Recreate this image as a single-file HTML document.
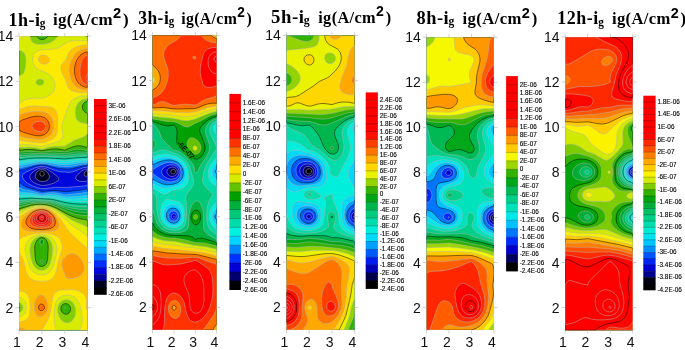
<!DOCTYPE html><html><head><meta charset="utf-8"><style>
*{margin:0;padding:0}
body{width:685px;height:350px;background:#fff;overflow:hidden}
svg{position:absolute;left:0;top:0}
.ax{font-family:"Liberation Sans",Arial,sans-serif;font-size:14px;fill:#111}
.cb{font-family:"Liberation Sans",Arial,sans-serif;font-size:6.4px;fill:#000;stroke:#000;stroke-width:0.12px}
.tt{font-family:"Liberation Serif","Times New Roman",serif;font-weight:bold;font-size:18.3px;fill:#000;letter-spacing:0.5px}
.t2{font-size:16.8px;letter-spacing:0.4px}
.clb{font-family:"Liberation Sans",Arial,sans-serif;font-size:7.2px;fill:#000;stroke:#000;stroke-width:0.15px}
.sb{font-size:11.5px;letter-spacing:0}
.sp{font-family:"Liberation Sans",Arial,sans-serif;font-size:14.5px;letter-spacing:0.6px}
</style></head><body><svg width="685" height="350" viewBox="0 0 685 350"><defs><clipPath id="c1"><rect x="190.0" y="361.0" width="686.0" height="2942.0"/></clipPath><clipPath id="c2"><rect x="1525.0" y="353.0" width="642.0" height="2948.0"/></clipPath><clipPath id="c3"><rect x="2865.0" y="354.0" width="681.0" height="2947.0"/></clipPath><clipPath id="c4"><rect x="4265.0" y="373.0" width="675.0" height="2928.0"/></clipPath><clipPath id="c5"><rect x="5652.0" y="369.0" width="676.0" height="2933.0"/></clipPath></defs><g clip-path="url(#c1)" transform="scale(.1)"><rect x="190" y="361" width="686" height="2942" fill="#000000"/><path fill="#000020" stroke="#b4b4b4" stroke-width="5" fill-rule="evenodd" d="M198 3303l678 0 0-2942-686 0 0 2942zM406 1757l-8-16 2-15 11-13 8-2 7 2 13 13 3 15-2 8-6 8-8 4-15-1z"/><path fill="#000098" stroke="#b4b4b4" stroke-width="5" fill-rule="evenodd" d="M198 3303l678 0 0-1542-15 2-8-2-7-5-6-15 9-22 12-10 15-3 0-1345-686 0 0 2942zM392 1809l-24-15-12-15-4-15 4-23 15-22 25-19 23-5 23 5 18 11 22 23 11 23 1 22-14 20-23 12-31 5-30-5z"/><path fill="#0007dd" stroke="#b4b4b4" stroke-width="5" fill-rule="evenodd" d="M198 3303l678 0 0-1494-38 7-38-3-31-13-11-13-1-8 5-15 12-15 41-38 31-17 30-5 0-1328-686 0 0 2942zM421 1855l-40-9-46-22-25-22-9-15-4-15 3-15 8-16 31-30 42-24 22-6 23-1 38 10 50 29 58 45 13 15 3 15-10 15-41 23-57 17-54 6z"/><path fill="#002efc" stroke="#b4b4b4" stroke-width="5" fill-rule="evenodd" d="M198 3303l678 0 0-1453-30 8-46 6-137 10-107-1-107 13-38-1-35-8-43-15-59-30-19-15-19-23-10-22-1-15 6-16 37-22 78-38 54-15 34 0 30 6 92 34 38 11 30 3 23-1 38 5 23-2 31-7 99-39 38-4 0-1311-686 0 0 2942z"/><path fill="#006bff" stroke="#000" stroke-width="5" fill-rule="evenodd" d="M198 3303l678 0 0-1416-53 11-160 20-115-14-129 10-107-29-61-21-38-24-23-26 0 1489zM196 1704l70-17 91-29 46-7 31 0 30 4 122 31 84 5 54-4 106-28 46-3 0-1295-686 0 0 1345z"/><path fill="#00a7ff" stroke="#b4b4b4" stroke-width="5" fill-rule="evenodd" d="M198 3303l678 0 0-1382-61 11-168 18-61-17-45-6-54 1-68 11-77-22-113-25-39-18 0 1429zM192 1681l150-37 61-8 54 2 122 23 76 6 61-4 107-20 53-4 0-1278-686 0 0 1321z"/><path fill="#00d8f9" stroke="#b4b4b4" stroke-width="5" fill-rule="evenodd" d="M198 3303l678 0 0-1350-91 11-130 5-84-18-38-4-46-1-68 8-92-21-114-11-23-5 0 1386zM194 1658l126-26 76-10 61 1 129 19 61 3 61-3 115-17 53-2 0-1262-686 0 0 1299z"/><path fill="#00efe2" stroke="#b4b4b4" stroke-width="5" fill-rule="evenodd" d="M198 3303l678 0 0-1320-99 8-99-1-38-4-107-22-46-2-68 4-92-15-68-4-69 3 0 1353zM198 1636l106-19 84-9 76 1 122 14 61 3 61-4 115-14 53-2 0-1245-686 0 0 1277z"/><path fill="#00e2b9" stroke="#b4b4b4" stroke-width="5" fill-rule="evenodd" d="M198 3303l678 0 0-1291-84 4-84-3-61-7-122-27-106-2-84-9-46-2-99 4 0 1333zM198 1616l99-15 84-7 91 0 175 13 160-14 69-3 0-1229-686 0 0 1257z"/><path fill="#00d292" stroke="#000" stroke-width="5" fill-rule="evenodd" d="M198 3303l678 0 0-1262-76 0-69-4-68-10-145-34-206-11-122 7 0 1314zM191 1598l90-13 77-5 122 0 167 9 145-13 84-3 0-1212-686 0 0 1237z"/><path fill="#00c26a" stroke="#b4b4b4" stroke-width="5" fill-rule="evenodd" d="M198 3303l678 0 0-1234-91-3-69-8-61-13-107-31-45-9-168-9-145 12 0 1295zM198 1578l137-13 168-1 144 8 130-13 99-2 0-1196-686 0 0 1218z"/><path fill="#00b03d" stroke="#b4b4b4" stroke-width="5" fill-rule="evenodd" d="M198 3303l678 0 0-1205-91-6-61-10-61-15-115-38-45-11-54-5-91-4-61 4-107 14 0 1276zM198 1559l129-10 92 2 106-3 122 6 122-15 107 1 0-1179-686 0 0 1199z"/><path fill="#00a40f" stroke="#b4b4b4" stroke-width="5" fill-rule="evenodd" d="M198 3303l678 0 0-1176-84-7-61-11-61-19-114-44-53-15-54-7-68-3-77 5-114 21 0 1256zM198 1540l99-8 122 4 106-6 122 7 122-19 107 5 0-1162-686 0 0 1180z"/><path fill="#32b200" stroke="#b4b4b4" stroke-width="5" fill-rule="evenodd" d="M198 3303l678 0 0-1147-69-4-53-9-69-23-114-52-46-17-61-14-68-5-84 7-122 29 0 1235zM643 3084l-3-7 7-8 8 3 3 5-1 7-10 4zM419 2632l-12-8-2-7 6-15 8-2 7 5 4 12-1 7-10 8zM405 2443l-7-23 7-22 14-8 13 8 5 15-3 23-8 10-7 4-8-1zM198 1521l106-7 115 8 122-11 106 8 23-3 69-20 38-4 38 2 61 12 0-1145-686 0 0 1161z"/><path fill="#83ce00" stroke="#000" stroke-width="5" fill-rule="evenodd" d="M198 3303l678 0 0-1101-91-17-54-17-53-24-115-63-53-22-53-12-54-4-45 2-46 8-122 36 0 977 8 11-8 9 0 217zM638 3137l-14-11-11-19-5-23 6-22 10-15 16-9 23-2 15 5 15 13 9 15 4 23-5 22-10 15-13 10-15 4-23-5zM401 2662l-15-8-13-13-15-32-8-60-3-83 9-38 19-30 13-12 15-8 16-3 15 3 20 12 12 15 14 38 2 38-6 113-10 38-17 21-23 11-23-1zM198 1502l53-7 46-1 45 3 77 10 84-15 53-4 38 3 53 11 77-33 38-10 45-1 61 15 8-2 0-337-23-10-15-14-10-17-4-23 4-23 9-15 16-13 23-7 0-651-397 0-13 15-17 12-15 6-15 2-16-3-15-8-9-9-8-15-181 0 0 1141z"/><path fill="#d7ec00" stroke="#b4b4b4" stroke-width="5" fill-rule="evenodd" d="M198 3303l678 0 0-1031-38-20-76-31-46-22-132-88-54-30-58-20-69-7-45 3-46 10-122 46 0 908 15 8 15 15 8 18 2 15-3 15-8 15-14 13-15 7 0 176zM654 3228l-30-17-15-16-15-24-16-49-2-30 3-23 15-37 25-23 13-7 23-5 23 1 15 4 31 19 22 33 10 38-1 45-5 23-10 22-24 30-31 16-30 0zM392 2700l-19-8-19-15-18-23-11-22-12-38-11-53-4-38 2-30 7-30 12-23 18-22 18-15 18-11 23-9 23-3 23 3 27 12 19 15 13 15 13 23 7 23 5 30-5 75-17 76-10 22-14 20-16 14-22 11-23 4-23-2zM396 1486l23 7 68-21 61-10 99 0 92-58 99-36 16-11 22-23 0-95-69-15-15-6-15-11-12-16-6-15-6-46 1-30 6-30 10-23 15-22 17-15 26-15 25-8 23-2 0-615-13-1-16-8-263 0-39 38-42 27-46 15-46 5-46-5-31-12-14-14-8-12-13-42-109 0 0 141 30 9 23 21 13 33 4 37-4 61-13 54-7 15-14 14-32 13 0 717 107-4 45 4 49 9zM386 851l-15-7-8-8-4-7 1-15 13-14 15-7 15-2 16 2 11 6 9 15-1 15-3 7-16 14-16 3-15-1z"/><path fill="#fcea00" stroke="#b4b4b4" stroke-width="5" fill-rule="evenodd" d="M198 3303l365 0-15-48-7-65 2-91 10-60 16-38 25-27 30-16 46-7 38 5 38 16 31 29 19 38 21 98 6 60-6 53-20 53 79 0 0-936-55-45-120-83-108-98-45-34-33-19-35-13-31-8-38-3-46 4-51 13-54 23-70 35 0 829 30 15 26 26 14 30 4 38-5 34-16 29-23 20-30 12 0 131zM377 2745l-27-12-23-18-15-19-15-27-43-143-5-38 2-30 11-30 17-23 25-22 26-15 37-15 36-8 31 0 35 8 34 14 22 16 20 22 12 23 9 30 3 30-3 38-9 45-15 61-12 37-17 31-18 21-23 16-30 11-31 2-30-4zM411 1463l31-5 111-33 38-15 21-16 14-22 4-23-13-75 3-30 50-144 32-75 10-15 16-15 34-19 53-14 61-5 0-549-122-3-53 7-38 15-61 41-39 17-38 7-106 6-38 9-31 18-16 25-7 30 1 30 7 30 12 23 13 15 21 15 91 40 38 28 19 22 15 31 7 30-1 30-10 30-15 23-22 20-31 18-30 12-23 5-99 1-46 7-46 19-38 31 0 400 122 9 96 13zM198 402l15-11 6-7 6-23-35 0 0 43z"/><path fill="#ffc200" stroke="#b4b4b4" stroke-width="5" fill-rule="evenodd" d="M198 3303l221 0 53-91 23-53 14-60 13-105 11-37 8-16 15-19 15-11 15-6 38-6 107-3 46 9 38 17 29 26 16 31 6 37-5 61 7 15 8 10 0-618-101-86-82-78-30-39-59-94-48-53-31-24-38-20-38-12-38-3-46 4-51 17-43 23-81 52 0 227 16-15 28-15 44-15 62-16 79-8 38 2 46 7 53 17 21 13 15 15 13 22 14 38 3 23-2 30-36 113-19 98-17 45-15 23-23 21-23 11-30 5-76 0-31-4-30-12-26-21-20-28-15-32-18-91-9-30-42-75 0 386 53 15 16 10 16 18 12 23 9 30 6 76-6 68-8 22-10 15-15 15-20 11-53 14 0 81zM342 1425l69 6 31-5 30-10 33-14 28-17 21-21 12-22 8-38 4-98-3-45-6-31-13-27-15-16-23-12-31-7-68-2-61-7-38 0-46 9-84 26 0 308 46 10 101 13zM815 927l61 2 0-484-61 8-38 9-31 12-30 20-31 35-10 21-15 45-40 45-8 15-3 15 2 30 9 31 39 75 16 53 13 23 20 20 23 11 31 8 50 6zM434 641l23-1 21-7 16-16 3-15-3-15-11-15-20-15-21-7-23 0-16 6-15 15-5 16 1 15 12 20 15 12 20 6z"/><path fill="#ff9900" stroke="#b4b4b4" stroke-width="5" fill-rule="evenodd" d="M198 3303l60 0-15-13-15-8-30-7-8 1 0 27zM396 3167l15-1 15-5 23-17 20-30 10-37-1-38-14-44-22-32-23-12-23 2-24 18-20 38-9 45 1 45 12 38 17 22 23 8zM678 2784l23 3 23-2 30-7 28-11 33-23 11-14 11-23 4-23-1-22-5-23-9-22-14-23-19-23-16-15-23-14-23-7-15 0-31 10-22 15-23 22-14 19-6 16-2 15 1 22 13 52 23 56 8 11 13 9zM192 2654l7-15 1-15-10-15 0 50zM266 2307l61 7 183-2 46-8 23-15 10-19 2-31-8-30-14-30-22-30-23-23-35-22-32-13-23-5-31-1-53 11-30 13-28 17-51 45-17 23-7 15-5 23 0 22 5 16 11 16 15 12 23 9zM358 1395l38 2 30-4 31-10 23-12 23-19 14-18 10-23 7-30 0-37-4-31-10-30-14-22-19-18-23-13-30-10-38-6-46-2-46 5-53 13-61 21 0 206 61 20 102 17zM838 897l38 4 0-419-38 7-31 11-30 17-23 20-21 28-18 37-17 46-7 37 0 31 7 37 15 46 20 37 19 23 20 15 28 13 33 10z"/><path fill="#ff6b00" stroke="#000" stroke-width="5" fill-rule="evenodd" d="M411 3107l15-2 8-6 8-10 3-12-6-23-6-7-14-7-16 2-7 6-11 21 4 23 7 8 14 7zM350 2293l76 3 61-6 38-14 16-14 9-15 4-23-2-22-8-23-14-23-20-22-23-18-26-12-27-7-46 1-46 15-21 13-26 23-27 38-7 22-1 15 3 15 8 15 26 23 23 9 25 6zM358 1357l45 1 39-11 30-23 13-20 6-15 4-23-2-22-6-20-10-18-13-15-15-12-23-10-23-6-45-1-54 10-76 26-38 21 0 83 30 15 48 17 88 23zM876 874l0-356-30 8-23 11-23 18-15 18-18 29-11 31-9 37-2 38 3 38 8 30 13 30 15 23 16 16 23 15 23 9 30 5z"/><path fill="#ff3d00" stroke="#b4b4b4" stroke-width="5" fill-rule="evenodd" d="M381 2278l53 1 46-9 16-8 14-11 15-27 2-15-3-22-9-23-11-15-32-28-38-14-23-1-23 3-38 15-30 25-11 15-11 23-3 30 5 15 10 15 25 18 40 12zM373 1312l23 4 23-4 16-8 14-15 7-23-5-22-11-15-21-13-23-4-31 5-23 12-20 22-2 15 7 15 15 16 30 14zM861 844l15 3 0-294-15 4-15 9-24 29-16 45-8 60 2 53 13 46 22 30 25 15z"/><path fill="#ff1500" stroke="#b4b4b4" stroke-width="5" fill-rule="evenodd" d="M396 2263l38 0 31-9 23-15 11-15 5-15-2-30-16-30-28-23-32-10-34 3-33 15-23 22-13 31 0 22 12 24 23 18 34 11zM868 816l8 4 0-86-15 46-1 19 6 15zM876 587z"/><path fill="#ff0000" stroke="#b4b4b4" stroke-width="5" fill-rule="evenodd" d="M411 2247l31-3 22-12 15-15 7-23-4-23-14-22-19-15-30-8-23 3-25 12-20 23-7 23 4 22 10 16 23 15 28 7z"/><path fill="#ff0000" stroke="#b4b4b4" stroke-width="5" fill-rule="evenodd" d="M396 2227l15 3 23-2 20-11 10-13 5-17-3-16-9-16-17-14-21-5-16 2-21 11-13 15-5 23 3 15 11 15 11 7z"/><path fill="#ff0000" stroke="#000" stroke-width="5" fill-rule="evenodd" d="M403 2211l16 3 15-4 16-16 2-23-10-15-8-6-23-3-15 6-10 11-4 23 6 14 11 8z"/><path fill="#ff0000" stroke="#b4b4b4" stroke-width="5" fill-rule="evenodd" d="M411 2196l15-1 10-8 2-16-4-7-8-6-15 0-9 6-4 7 2 16 8 7z"/><path fill="#ff0000" stroke="#b4b4b4" stroke-width="5" fill-rule="evenodd" d="M419 2180l6-9-6-5-7 5 5 8z"/></g><rect x="94.0" y="99.00" width="12.7" height="7.04" fill="#ff0000"/><rect x="94.0" y="105.74" width="12.7" height="7.04" fill="#ff0000"/><rect x="94.0" y="112.48" width="12.7" height="7.04" fill="#ff0000"/><rect x="94.0" y="119.22" width="12.7" height="7.04" fill="#ff0000"/><rect x="94.0" y="125.97" width="12.7" height="7.04" fill="#ff0000"/><rect x="94.0" y="132.71" width="12.7" height="7.04" fill="#ff0000"/><rect x="94.0" y="139.45" width="12.7" height="7.04" fill="#ff1500"/><rect x="94.0" y="146.19" width="12.7" height="7.04" fill="#ff3d00"/><rect x="94.0" y="152.93" width="12.7" height="7.04" fill="#ff6b00"/><rect x="94.0" y="159.67" width="12.7" height="7.04" fill="#ff9900"/><rect x="94.0" y="166.41" width="12.7" height="7.04" fill="#ffc200"/><rect x="94.0" y="173.16" width="12.7" height="7.04" fill="#fcea00"/><rect x="94.0" y="179.90" width="12.7" height="7.04" fill="#d7ec00"/><rect x="94.0" y="186.64" width="12.7" height="7.04" fill="#83ce00"/><rect x="94.0" y="193.38" width="12.7" height="7.04" fill="#32b100"/><rect x="94.0" y="200.12" width="12.7" height="7.04" fill="#00a40f"/><rect x="94.0" y="206.86" width="12.7" height="7.04" fill="#00b03d"/><rect x="94.0" y="213.60" width="12.7" height="7.04" fill="#00c26a"/><rect x="94.0" y="220.34" width="12.7" height="7.04" fill="#00d292"/><rect x="94.0" y="227.09" width="12.7" height="7.04" fill="#00e2b9"/><rect x="94.0" y="233.83" width="12.7" height="7.04" fill="#00efe2"/><rect x="94.0" y="240.57" width="12.7" height="7.04" fill="#00d8f9"/><rect x="94.0" y="247.31" width="12.7" height="7.04" fill="#00a7ff"/><rect x="94.0" y="254.05" width="12.7" height="7.04" fill="#006bff"/><rect x="94.0" y="260.79" width="12.7" height="7.04" fill="#002efc"/><rect x="94.0" y="267.53" width="12.7" height="7.04" fill="#0007dd"/><rect x="94.0" y="274.28" width="12.7" height="7.04" fill="#000098"/><rect x="94.0" y="281.02" width="12.7" height="7.04" fill="#000020"/><rect x="94.0" y="287.76" width="12.7" height="7.04" fill="#000000"/><path d="M94.0 105.74H106.7M94.0 112.48H106.7M94.0 119.22H106.7M94.0 125.97H106.7M94.0 132.71H106.7M94.0 139.45H106.7M94.0 146.19H106.7M94.0 152.93H106.7M94.0 159.67H106.7M94.0 166.41H106.7M94.0 173.16H106.7M94.0 179.90H106.7M94.0 186.64H106.7M94.0 193.38H106.7M94.0 200.12H106.7M94.0 206.86H106.7M94.0 213.60H106.7M94.0 220.34H106.7M94.0 227.09H106.7M94.0 233.83H106.7M94.0 240.57H106.7M94.0 247.31H106.7M94.0 254.05H106.7M94.0 260.79H106.7M94.0 267.53H106.7M94.0 274.28H106.7M94.0 281.02H106.7M94.0 287.76H106.7" stroke="#000" stroke-opacity="0.45" stroke-width="0.6" fill="none"/><path d="M19.0 32.9V36.1M19.0 330.3V333.8M41.9 32.9V36.1M41.9 330.3V333.8M64.7 32.9V36.1M64.7 330.3V333.8M87.6 32.9V36.1M87.6 330.3V333.8M15.5 36.1H19.0M87.6 36.1H91.1M15.5 81.4H19.0M87.6 81.4H91.1M15.5 126.6H19.0M87.6 126.6H91.1M15.5 171.9H19.0M87.6 171.9H91.1M15.5 217.1H19.0M87.6 217.1H91.1M15.5 262.4H19.0M87.6 262.4H91.1M15.5 307.7H19.0M87.6 307.7H91.1" stroke="#bbb" stroke-width="0.7" fill="none"/><g clip-path="url(#c2)" transform="scale(.1)"><rect x="1525" y="353" width="641" height="2948" fill="#000000"/><path fill="#00006e" stroke="#b4b4b4" stroke-width="5" fill-rule="evenodd" d="M1532 3301l635 0 0-2948-642 0 0 2948zM1721 1736l-9-7-4-8 2-15 15-12 14-1 14 12 2 16-9 13-7 4-14 0z"/><path fill="#0000d6" stroke="#b4b4b4" stroke-width="5" fill-rule="evenodd" d="M1532 3301l635 0 0-2948-642 0 0 2948zM1734 2167l5-6 4 6-4 5zM1698 1759l-19-15-8-15-2-15 5-16 13-15 16-9 22-4 21 5 14 10 9 13 4 16-4 22-11 15-19 11-14 3-22-4z"/><path fill="#0032ff" stroke="#b4b4b4" stroke-width="5" fill-rule="evenodd" d="M1532 3301l635 0 0-2948-642 0 0 2948zM1730 2190l-11-8-5-7-2-15 2-8 11-12 7-3 14 2 13 13 2 8-1 15-14 14-14 1zM1693 1789l-38-15-26-23-12-22 1-23 15-23 29-22 34-12 36 0 28 12 22 22 8 23 0 30-6 15-9 15-21 16-29 9-29-1z"/><path fill="#0086ff" stroke="#b4b4b4" stroke-width="5" fill-rule="evenodd" d="M1532 3301l635 0 0-2948-642 0 0 1345 61-37 46-23 43-13 35-1 43 10 29 20 21 29 8 38-6 38-9 17-14 16-14 10-22 10-43 7-42-5-43-16-50-31-43-35 0 1569zM1713 2205l-16-15-7-15-1-23 4-15 10-15 15-9 21-2 14 4 15 11 10 18 3 23-4 15-9 16-15 10-14 3-21-4z"/><path fill="#00d2ff" stroke="#000" stroke-width="5" fill-rule="evenodd" d="M1532 3301l635 0 0-1104-14-13-5-17 5-18 14-15 0-393-11-12-4-15 6-16 9-8 0-1337-642 0 0 1295 57-27 57-18 50-5 43 6 43 18 28 25 22 36 6 23 2 23-5 38-10 22-11 15-32 24-43 15-57 5-43-6-57-23-50-30 0 1512zM1710 2228l-23-15-16-23-8-30 4-31 15-28 21-16 22-5 28 5 22 13 17 24 8 30-2 30-10 23-20 19-29 9-29-5z"/><path fill="#00f0e0" stroke="#b4b4b4" stroke-width="5" fill-rule="evenodd" d="M1532 3301l635 0 0-1059-19-14-13-15-10-23-3-23 2-23 9-22 13-20 21-20 0-282-21-17-15-18-9-21-3-23 3-23 10-22 14-19 21-18 0-1286-642 0 0 1254 71-26 50-10 57 3 57 16 43 27 31 36 18 45 5 46-5 38-18 37-14 16-17 13-35 15-86 18-43 2-43-12-71-36 0 1466zM1706 2250l-31-17-14-15-13-21-11-37 2-46 7-20 10-18 12-12 14-10 14-6 22-3 35 5 22 10 12 9 22 30 11 38-1 45-7 23-8 15-22 22-14 7-22 6-36-3z"/><path fill="#00dca9" stroke="#b4b4b4" stroke-width="5" fill-rule="evenodd" d="M1532 3301l635 0 0-1010-29-19-24-29-15-38-4-38 4-45 13-38 19-31 36-34 0-153-42-31-22-26-16-35-5-38 4-38 17-42 22-33 42-46 0-230-25-34-8-30 2-15 7-15 10-11 14-6 0-883-642 0 0 1216 78-25 43-5 29 2 35 8 43 13 29 13 21 13 24 20 19 22 15 23 16 45 9 69-2 30-9 30-15 24-21 22-36 18-78 12-72 39-14 0-14-5-100-60 0 1424zM1700 2273l-25-11-26-19-18-23-12-23-8-30-4-30 1-38 5-30 19-44 14-19 15-10 21-1 86 18 21 8 14 11 14 16 15 28 8 31 3 30-5 60-15 38-13 16-19 14-38 13-28 0-22-4z"/><path fill="#00c878" stroke="#b4b4b4" stroke-width="5" fill-rule="evenodd" d="M1532 3301l635 0 0-958-32-17-28-23-21-30-11-30-6-38-2-45 6-91 16-56 14-28 25-37-1-8-53-49-28-34-16-30-5-30 13-76 20-60 25-46 84-128-14-46-47-98-6-22-2-23 5-30 14-25 21-20 29-11 0-859-642 0 0 1179 78-30 22-4 21 1 29 7 93 34 43 22 28 23 21 22 31 46 45 144 3 22-2 16-9 22-59 83-11 23-2 23 10 68 1 45-5 91-8 45-10 23-13 15-21 15-28 11-50 4-50-10-21-9-22-14-32-35-20-45-13-61-6-53 0-75-5-30-13-31-11-12-14-9 0 1382zM1739 1956l8 0 8-8 0-8-8-7-8-1-9 8 0 8 9 8zM2167 1940z"/><path fill="#00af3c" stroke="#b4b4b4" stroke-width="5" fill-rule="evenodd" d="M1532 3301l635 0 0-907-58-30-35-23-17-15-16-23-7-38 3-113-9-60-11-34-14-26-14-16-22-7-14 4-21 20-15 22-15 37-13 55-2 103-9 31-11 15-14 11-43 16-57 6-57-5-43-13-38-23-30-30-18-30-21-76-21-52 0 1201zM1953 1726l14-1 12-11 23-53 70-106 22-53 4-30-5-31-29-83-8-30-1-30 6-23 16-30 26-27 28-19 36-12 0-834-642 0 0 893 14 4 14 10 24 30 20 38 17 53 11 15 91 91 16 12 50 14 35 19 43 35 48 48 18 23 12 23 5 15 0 38 5 7zM1529 1494l10-7 9-15 8-23 1-23-6-15-26-15 0 100z"/><path fill="#01a000" stroke="#000" stroke-width="5" fill-rule="evenodd" d="M1532 3301l635 0 0-874-107-36-36-9-35 0-36 12-29-23-35-13-171-5-65-11-42-18-36-25-30-34-20-38 0 1074zM1946 2244l21 2 15-9 14-18 8-22 4-30-3-23-9-21-14-16-15-6-21 3-21 18-11 22-4 23 4 30 10 26 19 20zM1939 1585l21 6 14-1 29-15 28-33 17-40 3-30-7-38-46-113-2-23 7-23 32-38 45-37 41-23 46-14 0-810-642 0 0 865 29 4 71 28 28 7 36 2 43-8 10 2 10 7 12 23 7 30-4 91 3 22 5 15 13 16 37 31 69 67 44 30z"/><path fill="#63c300" stroke="#b4b4b4" stroke-width="5" fill-rule="evenodd" d="M1532 3301l635 0 0-841-121-30-93-5-107-28-100-16-57-2-43-6-35-11-31-13-26-17-29-23 0 992zM1946 2190l14 3 13-11 3-7 0-15-9-13-14-3-14 10-4 21 10 15zM1939 1541l14 2 14-1 22-13 14-19 7-31-5-30-16-29-22-22-28-16-22-5-21 6-18 21-8 30 4 30 13 30 23 29 26 17zM1860 1269l22 1 14-5 48-28 52-23 93-51 35-14 43-11 0-785-642 0 0 837 36 4 92 18 93 7 32 11 54 29 23 9z"/><path fill="#d6eb00" stroke="#b4b4b4" stroke-width="5" fill-rule="evenodd" d="M1532 3301l635 0 0-808-107-26-128-15-186-38-71-3-43-6-57-16-50-22 0 934zM1946 1504l15-2 8-8 2-7-2-15-9-10-14-4-7 3-8 11 0 15 12 15zM1867 1207l36-4 50-13 136-56 78-22 0-759-642 0 0 810 214 22 93 19 33 3z"/><path fill="#fede00" stroke="#b4b4b4" stroke-width="5" fill-rule="evenodd" d="M1532 3301l635 0 0-775-128-30-293-43-114-11-53-10-54-15 0 884zM1810 1162l65 3 57-7 50-14 107-39 78-18 0-734-642 0 0 782 284 27z"/><path fill="#ffaa00" stroke="#b4b4b4" stroke-width="5" fill-rule="evenodd" d="M1532 3301l635 0 0-742-93-23-85-17-350-36-114-21 0 839zM1768 1124l99 3 65-5 50-12 99-35 86-15 0-707-642 0 0 408 16 15 8 23-7 23-17 14 0 271 114 4 126 13z"/><path fill="#ff6f00" stroke="#000" stroke-width="5" fill-rule="evenodd" d="M1532 3301l595 0 16-30 24-28 0-649-200-49-157-6-135-9-150-22 0 793zM1730 3097l-9-15 4-19 14-9 14 5 8 15-2 15-13 12-14-3zM1718 1087l42 3 179-3 37-8 70-30 35-11 43-6 43 1 0-647-29-10-24-23-589 0 0 297 36 31 21 27 17 38 5 38-5 38-15 30-23 26-36 23 0 177 21 1 86-5 79 12z"/><path fill="#ff3200" stroke="#b4b4b4" stroke-width="5" fill-rule="evenodd" d="M1532 3301l499 0 102-144 22-45 12-38 0-419-7-12-11-7-68-21-86-32-35-8-36-2-114 10-128-3-50-4-107-20 0 745zM1734 3180l-24-18-16-27-10-38 1-30 10-31 15-18 22-11 14-2 14 3 22 14 15 22 10 30 0 38-10 38-15 22-22 12-21-2zM1532 1049l24-8 33-19 29-6 35 6 60 26 26 7 107-14 107 10 21-9 43-29 29-15 92-28 29-15 0-525-57-9-43-15-28-21-25-32-205 0-20 27-19 18-78 46-32 30-19 38-5 38 7 37 29 83 9 38 2 46-8 53-21 60-17 30-19 27-15 15-21 16-57 26 0 67zM1934 587l-6-7 0-8 4-7 7-4 14 4 7 15-7 9-14 1z"/><path fill="#ff0000" stroke="#b4b4b4" stroke-width="5" fill-rule="evenodd" d="M1532 3301l96 0 10-38 6-38 3-143 9-61 12-34 14-25 14-15 22-13 21-4 29 5 28 19 21 23 15 25 10 27 22 98 11 34 20 34 22 18 15 5 21 2 21-5 22-10 43-33 33-45 17-32 16-43 14-53 8-46 3-53-2-68-8-75-17-43-28-33-98-68-17-7-14-1-129 34-142 11-29-2-35-8-86-33 0 694zM2060 869l21 4 29 0 28-5 29-10 0-384-50 3-43 14-24 21-10 15-9 23-27 120-2 53 5 31 21 83 11 18 16 12z"/><path fill="#ff0000" stroke="#b4b4b4" stroke-width="5" fill-rule="evenodd" d="M1528 3248l40-38 25-45 15-61 5-75-6-83-7-31-9-22-16-23-14-12-15-7-21-4 0 404zM1939 3128l14 4 21-1 22-11 14-15 20-38 10-61-2-128-8-68-13-36-14-26-21-26-22-18-14-5-22 2-21 9-21 14-21 18-11 15-8 15-4 23 2 22 6 23 32 75 12 38 5 31 4 75 5 23 13 28 20 17zM2138 732l29 4 0-218-29 4-28 18-18 25-10 30-1 45 9 38 20 33 26 20z"/><path fill="#ff0000" stroke="#b4b4b4" stroke-width="5" fill-rule="evenodd" d="M1527 3165l19-18 18-27 9-23 3-30-3-31-11-30-16-26-21-21 0 207zM2153 619l14 6 0-66-15 6-10 15-1 22 10 16z"/><path fill="#ff0000" stroke="#000" stroke-width="5" fill-rule="evenodd" d="M1531 3097l9-15 1-15-6-15-10-10 0 60z"/></g><rect x="229.4" y="93.90" width="11.5" height="9.20" fill="#ff0000"/><rect x="229.4" y="102.80" width="11.5" height="9.20" fill="#ff0000"/><rect x="229.4" y="111.70" width="11.5" height="9.20" fill="#ff0000"/><rect x="229.4" y="120.60" width="11.5" height="9.20" fill="#ff0000"/><rect x="229.4" y="129.50" width="11.5" height="9.20" fill="#ff0000"/><rect x="229.4" y="138.40" width="11.5" height="9.20" fill="#ff3200"/><rect x="229.4" y="147.30" width="11.5" height="9.20" fill="#ff6f00"/><rect x="229.4" y="156.20" width="11.5" height="9.20" fill="#ffaa00"/><rect x="229.4" y="165.10" width="11.5" height="9.20" fill="#fede00"/><rect x="229.4" y="174.00" width="11.5" height="9.20" fill="#d6eb00"/><rect x="229.4" y="182.90" width="11.5" height="9.20" fill="#63c300"/><rect x="229.4" y="191.80" width="11.5" height="9.20" fill="#01a000"/><rect x="229.4" y="200.70" width="11.5" height="9.20" fill="#00af3c"/><rect x="229.4" y="209.60" width="11.5" height="9.20" fill="#00c878"/><rect x="229.4" y="218.50" width="11.5" height="9.20" fill="#00dca9"/><rect x="229.4" y="227.40" width="11.5" height="9.20" fill="#00f0e0"/><rect x="229.4" y="236.30" width="11.5" height="9.20" fill="#00d2ff"/><rect x="229.4" y="245.20" width="11.5" height="9.20" fill="#0086ff"/><rect x="229.4" y="254.10" width="11.5" height="9.20" fill="#0032ff"/><rect x="229.4" y="263.00" width="11.5" height="9.20" fill="#0000d6"/><rect x="229.4" y="271.90" width="11.5" height="9.20" fill="#00006e"/><rect x="229.4" y="280.80" width="11.5" height="9.20" fill="#000000"/><path d="M229.4 102.80H240.9M229.4 111.70H240.9M229.4 120.60H240.9M229.4 129.50H240.9M229.4 138.40H240.9M229.4 147.30H240.9M229.4 156.20H240.9M229.4 165.10H240.9M229.4 174.00H240.9M229.4 182.90H240.9M229.4 191.80H240.9M229.4 200.70H240.9M229.4 209.60H240.9M229.4 218.50H240.9M229.4 227.40H240.9M229.4 236.30H240.9M229.4 245.20H240.9M229.4 254.10H240.9M229.4 263.00H240.9M229.4 271.90H240.9M229.4 280.80H240.9" stroke="#000" stroke-opacity="0.45" stroke-width="0.6" fill="none"/><path d="M152.5 32.1V35.3M152.5 330.1V333.6M173.9 32.1V35.3M173.9 330.1V333.6M195.3 32.1V35.3M195.3 330.1V333.6M216.7 32.1V35.3M216.7 330.1V333.6M149.0 35.3H152.5M216.7 35.3H220.2M149.0 80.7H152.5M216.7 80.7H220.2M149.0 126.0H152.5M216.7 126.0H220.2M149.0 171.4H152.5M216.7 171.4H220.2M149.0 216.7H152.5M216.7 216.7H220.2M149.0 262.1H152.5M216.7 262.1H220.2M149.0 307.4H152.5M216.7 307.4H220.2" stroke="#bbb" stroke-width="0.7" fill="none"/><g clip-path="url(#c3)" transform="scale(.1)"><rect x="2865" y="354" width="681" height="2947" fill="#000000"/><path fill="#000048" stroke="#b4b4b4" stroke-width="5" fill-rule="evenodd" d="M2873 3301l673 0 0-2947-681 0 0 2947zM3075 1737l-14-15-1-15 4-8 13-10 15-2 8 2 7 6 7 12 0 15-7 10-7 5-8 3-15-2z"/><path fill="#0000b7" stroke="#b4b4b4" stroke-width="5" fill-rule="evenodd" d="M2873 3301l673 0 0-1121-7-5-3-7 2-10 8-7 0-1797-681 0 0 2947zM3071 1759l-18-7-15-15-6-15 0-23 7-15 15-13 15-6 23-1 15 6 18 14 8 15 1 23-5 15-14 15-15 7-23 2z"/><path fill="#001dee" stroke="#b4b4b4" stroke-width="5" fill-rule="evenodd" d="M2873 3301l673 0 0-1095-15-8-8-8-8-15-1-15 9-25 23-18 0-1763-681 0 0 2947zM3073 2183l-7-15 4-16 14-9 16 2 12 15-1 15-11 12-16 1-7-3zM3068 1782l-29-8-27-22-12-23-2-30 8-23 21-22 27-13 30-1 31 9 22 18 15 24 4 31-7 22-19 23-30 14-31 1z"/><path fill="#0059ff" stroke="#b4b4b4" stroke-width="5" fill-rule="evenodd" d="M2873 3301l673 0 0-1068-23-11-17-17-12-22-3-23 3-23 11-22 18-21 23-13 0-1727-681 0 0 2947zM3063 2205l-11-7-11-15-5-23 4-15 10-15 19-11 23-2 15 5 15 11 8 12 5 15-4 23-10 15-14 9-15 4-23-3zM3057 1805l-41-11-30-21-11-14-11-22-5-38 5-23 7-15 11-15 18-15 36-15 41-2 23 4 22 9 31 23 20 34 6 38-4 22-7 15-23 26-15 9-23 8-45 3z"/><path fill="#00a0ff" stroke="#000" stroke-width="5" fill-rule="evenodd" d="M2873 3301l673 0 0-1039-37-19-23-23-14-30-5-38 7-37 15-31 27-26 30-17 0-1687-681 0 0 2947zM3053 2228l-25-15-17-23-8-30 5-30 17-23 29-15 30-3 31 7 22 15 17 26 4 31-5 22-15 23-23 15-31 6-30-5zM3025 1828l-31-8-23-10-23-18-14-17-11-23-6-23-2-30 3-23 7-22 13-23 14-15 19-13 23-11 22-5 53-1 31 6 30 12 23 14 21 21 15 22 10 23 4 23 0 30-6 22-12 23-14 15-18 13-23 10-30 7-38 3-31-2z"/><path fill="#00d9f8" stroke="#b4b4b4" stroke-width="5" fill-rule="evenodd" d="M2873 3301l673 0 0-1010-45-21-23-18-13-16-17-38-7-53 7-50 18-41 30-30 50-26 0-1644-681 0 0 1302 12-33 15-22 25-23 24-14 24-9 29-4 37 1 38 6 38 10 30 12 31 18 19 18 19 23 15 30 8 30 3 30-2 30-11 31-16 22-20 16-23 11-30 7-121 13-31-2-22-5-23-9-22-15-16-17-15-23-11-29-4-22 0 1564zM3040 2251l-24-11-15-12-14-15-14-23-7-22-2-23 8-38 9-15 13-13 30-15 45-6 46 7 22 9 16 10 14 16 8 15 9 37-1 23-6 23-19 30-28 20-38 9-23 0-22-4zM2865 1714z"/><path fill="#00eedb" stroke="#b4b4b4" stroke-width="5" fill-rule="evenodd" d="M2873 3301l673 0 0-981-38-13-30-16-22-18-17-22-11-23-8-30-8-98 2-31 7-30 11-26 16-20 15-14 22-13 61-13 0-73-34-52-16-31-9-30-4-30 4-30 10-31 19-31 30-41 0-270-15-23-7-28 5-22 6-8 11-5 0-894-681 0 0 1179 53-26 23-5 30-1 53 11 98 31 38 17 27 18 24 23 19 22 14 23 15 45 8 76-5 38-16 30-25 21-31 12-121 11-30 9-68 27-23 5-15-2-23-8-45-29 0 1420zM3057 2281l-48-12-21-11-21-15-14-15-15-23-15-45-5-30 0-30 5-31 10-22 15-19 15-9 15-4 23 0 121 18 38 12 16 9 15 15 9 15 8 23 4 38-4 45-10 30-15 23-23 19-30 13-30 6-38 0z"/><path fill="#00dcaa" stroke="#b4b4b4" stroke-width="5" fill-rule="evenodd" d="M2873 3301l673 0 0-951-53-17-38-17-30-23-21-27-10-30-7-76-7-38-16-44-32-77-13-60-46 15-27 15-3 8 12 37 2 31-23 173-8 23-10 15-18 17-23 13-53 15-60 4-53-7-46-16-30-20-27-28-17-31-24-66 0 1162zM3084 1994l31 2 38-5 39-12 14-8 5-7-9-16-28-22-29-15-23-8-22-2-23 3-25 14-12 15-3 23 6 15 19 15 21 8zM3349 1769l23-5 19-20 39-83 43-75 17-38 12-45 2-38-6-38-21-83 0-45 9-31 16-22 21-16 23-8 0-868-681 0 0 1064 23-6 22-1 23 2 30 9 46 23 75 56 61 16 45 25 46 39 36 42 20 38 6 53 6 16 15 21 23 16z"/><path fill="#00cb7f" stroke="#b4b4b4" stroke-width="5" fill-rule="evenodd" d="M2873 3301l673 0 0-922-68-17-59-21-43-22-26-23-13-23-1-15 20-60 1-38-5-15-10-16-15-10-16-2-15 6-7 7-9 15-5 15-1 30 12 53-2 23-10 15-16 12-45 20-45 11-46 6-75 3-53-4-38-8-38-15-27-18-26-23 0 1036zM3084 1957l16 2 7-4 5-7 0-7-5-8-15-6-11 6-4 8 1 7 5 8zM3334 1603l23 1 15-5 15-10 29-34 17-37 6-31 1-30-20-121 4-30 11-30 22-30 25-23 34-19 30-8 0-842-681 0 0 907 53 33 91 37 30 16 23 22 44 66 14 15 70 44 99 85 39 22z"/><path fill="#00b64c" stroke="#000" stroke-width="5" fill-rule="evenodd" d="M2873 3301l673 0 0-888-144-32-38-4-45 0-38-14-30-5-151-2-76 5-46 0-68-9-45-18 0 967zM3319 2178l5-3 3-7-8-9-9 9 2 7zM3319 1541l23-1 22-14 13-16 7-23 1-22-3-23-31-75-6-23 2-30 9-23 33-38 57-45 47-24 53-14 0-816-681 0 0 874 23 3 68 17 38 7 37 2 53-6 14 2 9 6 40 40 34 45 17 30 35 83 22 38 28 30 13 9 20 6z"/><path fill="#00a617" stroke="#b4b4b4" stroke-width="5" fill-rule="evenodd" d="M2873 3301l673 0 0-851-53-15-68-13-45-5-61 0-91-20-136-15-106 15-121-3 0 907zM3319 1497l8-2 5-8 0-7-5-10-8-3-8 1-6 12 1 7 6 8zM3206 1247l37 4 31-5 68-26 121-55 38-12 45-9 0-790-681 0 0 842 121 14 114 5 100 31z"/><path fill="#32b200" stroke="#b4b4b4" stroke-width="5" fill-rule="evenodd" d="M2873 3301l652 0 6-17 15-24 0-772-55-18-66-14-121-11-212-28-114 17-60 2-53-4 0 869zM3160 1186l68 6 53-5 53-13 121-39 91-18 0-763-681 0 0 809 219 14 71 8z"/><path fill="#92d300" stroke="#b4b4b4" stroke-width="5" fill-rule="evenodd" d="M2873 3301l610 0 10-32 44-104 9-49 0-590-68-24-83-18-167-16-121-6-144 13-98-4 0 830zM3077 1140l121 4 76-3 60-10 114-28 98-13 0-736-404 0-11 30-16 17-23 11-30 4-53-10-106-41-38-11 0 374 23 12 16 14 13 23 3 23-6 22-10 16-16 13-23 9 0 270 211 10z"/><path fill="#e9f300" stroke="#b4b4b4" stroke-width="5" fill-rule="evenodd" d="M2873 3301l566 0 51-128 11-38 15-76 30-74 0-418-68-29-83-22-68-10-84-3-113 3-144 11-121-5 0 789zM3084 1102l220-9 128-26 114-5 0-708-352 0-5 45-8 31-13 20-23 16-53 12-114 14-83 7-30 5 0 132 56 28 42 36 28 39 9 23 3 23-4 22-10 23-30 38-41 28-53 21 0 179 30 2 91-4 95 8zM3280 634l-14-9-14-22-5-22 4-25 8-13 22-12 23-1 23 6 15 11 12 19 2 22-4 15-10 16-23 15-23 3-15-3z"/><path fill="#ffd700" stroke="#000" stroke-width="5" fill-rule="evenodd" d="M2873 3301l518 0 51-106 18-45 42-174 10-53 10-75 24-73 0-165-79-34-72-26-53-12-46-3-60 3-152 22-60 6-61-2-98-10 0 747zM2873 1062l29-5 54-25 22-4 23 4 65 25 26 4 23-2 60-18 38-6 38 1 68 10 61-19 45-7 60 2 61 12 0-680-300 0 9 45 18 31 23 18 76 40 18 17 12 20 10 33 1 30-8 38-13 30-35 49-61 59-22 14-76 34-68 51-136 87-38 17-68 6-23 6 0 82zM3092 650l15-2 15-8 11-14 7-23-3-22-7-15-15-13-15-5-23 1-18 9-14 15-5 15 2 23 9 15 18 16 18 7z"/><path fill="#ffa900" stroke="#b4b4b4" stroke-width="5" fill-rule="evenodd" d="M2873 3301l462 0 67-109 28-57 18-68 11-76 12-143 23-121 0-46-7-22-11-15-49-38-62-30-28-8-26-2-60 8-144 43-60 11-38 1-38-5-106-26 0 703zM3090 3097l-6-4-6-11 1-15 13-12 15 1 8 7 4 11-3 15-9 9-15 0zM3478 944l38 4 30-6 0-483-15 8-15 13-18 33-11 37-20 106-50 121-19 68-1 38 9 23 11 12 16 10 43 15zM3342 393l22-1 25-8 19-15 6-15-118 0 10 23 13 9 17 6z"/><path fill="#ff7500" stroke="#b4b4b4" stroke-width="5" fill-rule="evenodd" d="M2873 3301l157 0 35-53 13-38-2-30-25-75-3-23 2-23 7-22 12-20 15-15 16-8 15-1 15 5 15 13 12 18 13 45 3 83 4 23 13 26 24 19 22 9 22 4 23-2 15-5 23-13 23-18 22-22 23-31 23-50 9-53 0-45-7-129 7-121-1-37-10-38-25-38-34-29-30-10-23 3-32 13-149 98-31 15-22 7-38 1-46-7-37-11-76-30 0 615zM3531 831l15 3 0-77-16 13-13 22 1 23 12 15z"/><path fill="#ff3f00" stroke="#b4b4b4" stroke-width="5" fill-rule="evenodd" d="M2873 3301l37-7 38-18 33-28 25-38 8-22 5-31 2-90 9-91-1-30-6-23-12-22-17-22-23-17-23-11-22-6-31-2-30 5 0 453zM3274 3157l15 4 22-3 23-9 15-12 25-32 8-23 3-23-2-30-6-30-13-33-33-73-12-45-15-18-15-9-8 0-15 9-23 34-20 59-8 61 2 68 10 53 16 31 15 14 15 7z"/><path fill="#ff1100" stroke="#b4b4b4" stroke-width="5" fill-rule="evenodd" d="M2873 3257l37-16 23-14 23-22 15-23 11-25 7-30 5-83-8-60-8-23-15-23-15-15-22-16-61-20 0 373zM3289 3106l15 6 23-4 14-11 8-15 3-15-3-17-7-16-15-15-16-6-15 2-15 10-8 12-4 15 0 22 5 15 13 16z"/><path fill="#ff0000" stroke="#000" stroke-width="5" fill-rule="evenodd" d="M2873 3218l45-27 28-34 16-37 6-53-8-53-18-38-32-30-45-20 0 296zM3319 3074z"/><path fill="#ff0000" stroke="#b4b4b4" stroke-width="5" fill-rule="evenodd" d="M2873 3182l30-20 23-27 13-30 4-38-7-38-17-30-24-22-30-15 0 223z"/><path fill="#ff0000" stroke="#b4b4b4" stroke-width="5" fill-rule="evenodd" d="M2867 3150l21-12 17-18 11-23 4-23-3-22-11-23-18-20-23-12 0 154z"/><path fill="#ff0000" stroke="#b4b4b4" stroke-width="5" fill-rule="evenodd" d="M2873 3115l18-18 5-15 1-15-11-23-21-15 0 90z"/><path fill="#ff0000" stroke="#b4b4b4" stroke-width="5" fill-rule="evenodd" d="M2873 3083l3-9-3-7-8-7 0 29z"/></g><rect x="365.7" y="92.40" width="12.2" height="8.15" fill="#ff0000"/><rect x="365.7" y="100.25" width="12.2" height="8.15" fill="#ff0000"/><rect x="365.7" y="108.10" width="12.2" height="8.15" fill="#ff0000"/><rect x="365.7" y="115.94" width="12.2" height="8.15" fill="#ff0000"/><rect x="365.7" y="123.79" width="12.2" height="8.15" fill="#ff0000"/><rect x="365.7" y="131.64" width="12.2" height="8.15" fill="#ff1100"/><rect x="365.7" y="139.49" width="12.2" height="8.15" fill="#ff3f00"/><rect x="365.7" y="147.34" width="12.2" height="8.15" fill="#ff7500"/><rect x="365.7" y="155.18" width="12.2" height="8.15" fill="#ffa900"/><rect x="365.7" y="163.03" width="12.2" height="8.15" fill="#ffd700"/><rect x="365.7" y="170.88" width="12.2" height="8.15" fill="#e9f300"/><rect x="365.7" y="178.73" width="12.2" height="8.15" fill="#92d300"/><rect x="365.7" y="186.58" width="12.2" height="8.15" fill="#32b200"/><rect x="365.7" y="194.42" width="12.2" height="8.15" fill="#00a617"/><rect x="365.7" y="202.27" width="12.2" height="8.15" fill="#00b64c"/><rect x="365.7" y="210.12" width="12.2" height="8.15" fill="#00cb7f"/><rect x="365.7" y="217.97" width="12.2" height="8.15" fill="#00dcaa"/><rect x="365.7" y="225.82" width="12.2" height="8.15" fill="#00eedb"/><rect x="365.7" y="233.66" width="12.2" height="8.15" fill="#00d9f8"/><rect x="365.7" y="241.51" width="12.2" height="8.15" fill="#00a0ff"/><rect x="365.7" y="249.36" width="12.2" height="8.15" fill="#0059ff"/><rect x="365.7" y="257.21" width="12.2" height="8.15" fill="#001dee"/><rect x="365.7" y="265.06" width="12.2" height="8.15" fill="#0000b7"/><rect x="365.7" y="272.90" width="12.2" height="8.15" fill="#000048"/><rect x="365.7" y="280.75" width="12.2" height="8.15" fill="#000000"/><path d="M365.7 100.25H377.9M365.7 108.10H377.9M365.7 115.94H377.9M365.7 123.79H377.9M365.7 131.64H377.9M365.7 139.49H377.9M365.7 147.34H377.9M365.7 155.18H377.9M365.7 163.03H377.9M365.7 170.88H377.9M365.7 178.73H377.9M365.7 186.58H377.9M365.7 194.42H377.9M365.7 202.27H377.9M365.7 210.12H377.9M365.7 217.97H377.9M365.7 225.82H377.9M365.7 233.66H377.9M365.7 241.51H377.9M365.7 249.36H377.9M365.7 257.21H377.9M365.7 265.06H377.9M365.7 272.90H377.9M365.7 280.75H377.9" stroke="#000" stroke-opacity="0.45" stroke-width="0.6" fill="none"/><path d="M286.5 32.2V35.4M286.5 330.1V333.6M309.2 32.2V35.4M309.2 330.1V333.6M331.9 32.2V35.4M331.9 330.1V333.6M354.6 32.2V35.4M354.6 330.1V333.6M283.0 35.4H286.5M354.6 35.4H358.1M283.0 80.7H286.5M354.6 80.7H358.1M283.0 126.1H286.5M354.6 126.1H358.1M283.0 171.4H286.5M354.6 171.4H358.1M283.0 216.8H286.5M354.6 216.8H358.1M283.0 262.1H286.5M354.6 262.1H358.1M283.0 307.4H286.5M354.6 307.4H358.1" stroke="#bbb" stroke-width="0.7" fill="none"/><g clip-path="url(#c4)" transform="scale(.1)"><rect x="4265" y="373" width="675" height="2928" fill="#000000"/><path fill="#000061" stroke="#b4b4b4" stroke-width="5" fill-rule="evenodd" d="M4272 3301l668 0 0-1107-8-4-7-15 7-14 8-3 0-1785-675 0 0 2928z"/><path fill="#0000cb" stroke="#b4b4b4" stroke-width="5" fill-rule="evenodd" d="M4272 3301l668 0 0-1080-15-7-11-9-8-15-2-15 4-15 10-14 22-12 0-1761-675 0 0 2928zM4490 1724z"/><path fill="#002af9" stroke="#b4b4b4" stroke-width="5" fill-rule="evenodd" d="M4272 3301l668 0 0-1052-22-10-22-19-11-23-3-22 5-23 15-22 16-11 22-9 0-1737-675 0 0 1564 7 4 4 9-4 9-7 4 0 1338zM4481 2175l1-5 9-3 5 8-6 6-8-4zM4466 1747l-9-15 3-15 6-8 16-8 16 3 7 5 7 15 0 8-7 12-15 9-15-1-7-4z"/><path fill="#0076ff" stroke="#b4b4b4" stroke-width="5" fill-rule="evenodd" d="M4272 3301l668 0 0-1024-30-12-28-23-18-30-6-30 6-37 16-26 23-19 37-14 0-1713-675 0 0 1510 23 5 14 12 11 20 6 30-4 30-13 26-14 13-23 6 0 1276zM4467 2205l-13-8-14-15-5-15 1-15 9-12 15-7 22-2 16 5 14 11 8 13 0 23-10 14-12 8-16 3-14-3zM4438 1777l-16-14-6-16 2-23 12-22 15-14 19-9 18-2 23 5 18 12 10 15 4 23-7 22-13 15-19 11-30 4-23-4z"/><path fill="#00c0ff" stroke="#000" stroke-width="5" fill-rule="evenodd" d="M4272 3301l668 0 0-996-46-18-21-15-14-15-20-37-6-38 6-45 10-22 12-15 34-25 45-14 0-325-10-12 2-9 8-7 0-1335-675 0 0 1447 45-11 22-12 14-20 22-53 19-30 24-22 34-16 23-4 22 1 22 6 16 8 15 12 12 15 6 15 4 23-4 22-6 15-13 16-20 14-40 15-82 15-22 12-12 19-6 37 1 105 5 30 8 23 11 13 15 9 90 22 22 10 18 13 16 23 4 22-3 23-12 21-23 16-22 6-22 0-30-8-24-13-18-15-64-72-22-13-45-15 0 1204z"/><path fill="#00e8e9" stroke="#b4b4b4" stroke-width="5" fill-rule="evenodd" d="M4272 3301l668 0 0-967-30-9-30-13-26-17-19-18-13-20-10-22-6-30-1-30 2-30 7-30 11-23 12-15 19-15 16-9 68-18 0-252-22-11-16-14-10-19-3-22 3-23 10-22 16-19 22-19 0-280-15-13-10-15-9-30 2-15 7-15 10-9 15-6 0-878-675 0 0 1389 15-7 15-12 40-56 30-30 43-22 44-9 30 1 30 6 24 9 22 13 16 17 14 22 7 23 2 22-8 38-9 16-15 16-36 20-77 26-30 20-20 30-8 37 1 30 6 23 11 22 10 13 30 21 83 34 20 15 13 15 11 22 5 30-5 30-14 25-23 21-30 13-30 4-39-3-28-7-37-17-113-72 0 1140z"/><path fill="#00e2bb" stroke="#b4b4b4" stroke-width="5" fill-rule="evenodd" d="M4272 3301l668 0 0-937-52-16-38-17-31-21-27-30-11-23-5-22-3-113 3-30 7-22 15-21 14-13 23-11 23-6 82-10 0-177-45-18-30-22-19-30-7-38 6-45 15-37 28-42 52-65 0-76-30-38-22-36-16-36-4-30 4-30 15-30 23-21 30-10 0-855-675 0 0 1299 24-23 29-21 22-12 30-11 30-6 38-2 74 8 30 9 23 11 23 15 16 17 16 22 9 23 9 52-2 23-6 22-7 15-13 15-15 12-23 10-82 21-30 14-14 11-12 15-10 30 1 23 4 15 9 16 14 16 30 18 90 30 23 16 15 18 12 36 0 45-8 37-17 30-29 23-33 14-37 7-46 1-37-6-45-12-105-47 0 1079z"/><path fill="#00cf8a" stroke="#b4b4b4" stroke-width="5" fill-rule="evenodd" d="M4272 3301l668 0 0-908-68-18-60-25-42-25-33-30-15-23-5-22 21-53 3-30-11-25-8-8-14-7-16 3-7 6-12 24-3 30 3 45-4 15-25 22-48 23-38 10-38 6-82 2-76-11-97-29 0 1028zM4498 2004l30 3 43-5 39-14 16-16 5-22-6-15-17-15-37-15-36-7-30 0-23 6-20 16-11 22 2 23 15 23 25 14zM4902 1981l38 2 0-100-8-2-37-4-37 3-30 10-13 15 0 15 14 22 32 23 36 15zM4722 1780l16 1 7-3 15-19 24-95 56-105 16-45 2-22-2-23-24-82-6-30 0-38 7-30 16-30 23-25 30-19 38-10 0-832-675 0 0 1196 67-12 46-1 150 24 55 17 42 25 35 35 16 30 16 60 8 14 18 16z"/><path fill="#00b955" stroke="#b4b4b4" stroke-width="5" fill-rule="evenodd" d="M4272 3301l668 0 0-876-195-56-60-23-30-8-37-2-210 4-68-7-75-15 0 983zM4498 1973l14-3 13-13-1-15-6-7-13-6-15 0-8 4-6 9-1 15 7 10 12 5zM4932 1954l8 2 0-20-8 0-5 6 0 8zM4678 1591l30 5 30-8 30-25 19-34 7-22 2-30-20-98-2-38 7-37 19-38 28-33 36-27 38-16 38-8 0-809-675 0 0 901 24 60 16 75 15 30 22 23 60 45 39 22 41 15 76 6 30 6 86 33z"/><path fill="#00a71b" stroke="#000" stroke-width="5" fill-rule="evenodd" d="M4272 3301l668 0 0-844-142-38-83-11-60-23-45-9-112-9-128 3-105-10 0 941zM4692 1530l16 0 14-5 12-11 7-15 0-15-3-15-35-67-8-30 0-23 4-15 20-38 43-52 24-23 32-22 54-26 68-15 0-785-675 0 0 869 23 3 67 24 30 7 37-2 60-18 16 2 14 7 16 16 9 15 7 23-1 15-5 15-10 15-51 45-16 23-5 15-1 22 3 15 8 15 16 14 16 2 67-17 37-1 23 6 66 26z"/><path fill="#32b200" stroke="#b4b4b4" stroke-width="5" fill-rule="evenodd" d="M4272 3301l668 0 0-811-135-37-97-17-98-24-120-19-98 10-127-3 0 901zM4595 1245l37 3 30-6 30-13 80-45 48-23 52-16 68-11 0-761-675 0 0 838 120 15 113-4 30 5 61 17z"/><path fill="#9bd600" stroke="#b4b4b4" stroke-width="5" fill-rule="evenodd" d="M4272 3301l668 0 0-777-75-25-83-20-180-33-112-16-112 8-113 0 0 863zM4580 1191l45-2 37-8 120-44 47-13 43-8 68-6 0-737-675 0 0 806 120 10 189 2z"/><path fill="#f5f800" stroke="#b4b4b4" stroke-width="5" fill-rule="evenodd" d="M4272 3301l613 0 19-30 36-45 0-667-90-32-98-24-150-22-120-10-217 6 0 824zM4392 1154l98 1 68-4 67-13 180-46 45-5 90-1 0-713-591 0-9 30-15 23-24 22-36 22 0 273 23 21 6 14 2 15-2 15-7 15-7 9-15 7 0 309 123 6z"/><path fill="#ffcb00" stroke="#b4b4b4" stroke-width="5" fill-rule="evenodd" d="M4272 3301l551 0 77-98 21-37 11-30 8-51 0-489-135-49-75-19-82-9-158-6-225 5 0 783zM4272 1117l106 0 90 5 44-3 44-10 99-36 127-24 60 1 98 11 0-688-400 0 9 98 5 22 11 19 14 11 16 6 105 22 22 13 16 19 4 15-3 23-36 75-10 45 4 45 8 22 10 15-45 13-158 26-30 2-60-4-30 3-127 39 2 214zM4490 608l9-2 6-8 1-7-7-8-9 0-8 6-1 9 5 8z"/><path fill="#ff9700" stroke="#000" stroke-width="5" fill-rule="evenodd" d="M4272 3301l443 0 45-17 45-30 42-43 30-45 20-53 29-112 7-38 1-45-6-67 12-90 0-58-9-48-8-15-10-7-132-60-59-17-60-4-240 8-157-1 0 742zM4475 1086l30-2 30-15 28-28 13-30-2-22-17-23-29-15-38-8-68 1-120 15-37 9 0 115 30 0 60-13 23-2 22 2 74 16zM4910 1020l30 3 0-650-305 0 11 30 22 30 24 21 53 33 23 21 20 30 9 30 3 23-2 30-30 127-5 83-14 83 4 30 16 22 22 15 44 18 69 20z"/><path fill="#ff5d00" stroke="#b4b4b4" stroke-width="5" fill-rule="evenodd" d="M4272 3301l150 0 15-23 15-15 16-9 22-5 22 2 60 16 30 4 38 0 45-8 53-17 37-19 37-30 30-39 15-30 13-37 12-60 5-45-1-45-11-90-3-98-5-38-7-22-14-23-39-37-31-23-28-15-26-8-22-2-38 3-112 17-120 11-60-2-82-11-23 0 0 698zM4902 966l38 6 0-599-15 2-15 8-8 8-7 17-11 108-9 52-14 53-38 112-12 68 2 68 5 22 10 21 11 17 19 16 22 13 21 8z"/><path fill="#ff2600" stroke="#b4b4b4" stroke-width="5" fill-rule="evenodd" d="M4272 3301l25 0 83-240 20-32 15-13 15-6 15-2 23 3 22 12 15 13 19 32 11 60 12 30 26 30 22 15 23 9 22 6 30 2 30-3 30-8 45-23 22-20 18-23 19-37 11-45 4-53-6-52-40-135-16-83-11-38-14-30-19-30-13-15-15-8-23 6-104 43-83 25-90 18-105 5-22 6-23 16 0 565zM4918 915l22 5 0-277-38 47-22 35-17 38-8 38 1 37 9 31 23 29 25 16z"/><path fill="#ff0000" stroke="#b4b4b4" stroke-width="5" fill-rule="evenodd" d="M4648 3174l30 6 30-1 30-8 22-13 22-20 17-25 12-30 5-37-3-38-8-30-13-30-17-27-30-30-90-53-23-5-14 3-16 6-19 16-16 23-9 20-7 25-2 22 9 68 16 67 11 30 13 23 12 14 15 12 22 11zM4940 870l0-120-15 11-15 17-8 15-5 23 2 15 6 15 13 14 15 9z"/><path fill="#ff0000" stroke="#b4b4b4" stroke-width="5" fill-rule="evenodd" d="M4678 3144l14 3 23-1 30-12 15-13 12-15 11-30 1-38-13-37-11-18-15-15-30-17-23-5-14 0-30 10-22 22-12 30-2 45 4 23 8 22 24 30 27 15z"/><path fill="#ff0000" stroke="#000" stroke-width="5" fill-rule="evenodd" d="M4692 3114l23 2 15-5 15-12 8-16 3-22-4-17-13-21-17-12-22-4-15 3-15 11-11 17-4 23 4 22 11 17 19 13z"/><path fill="#ff0000" stroke="#b4b4b4" stroke-width="5" fill-rule="evenodd" d="M4708 3088l7 1 10-6 3-15-6-9-14-4-8 5-4 8 4 15z"/></g><rect x="506.1" y="76.10" width="11.8" height="8.78" fill="#ff0000"/><rect x="506.1" y="84.58" width="11.8" height="8.78" fill="#ff0000"/><rect x="506.1" y="93.06" width="11.8" height="8.78" fill="#ff0000"/><rect x="506.1" y="101.53" width="11.8" height="8.78" fill="#ff0000"/><rect x="506.1" y="110.01" width="11.8" height="8.78" fill="#ff0000"/><rect x="506.1" y="118.49" width="11.8" height="8.78" fill="#ff2600"/><rect x="506.1" y="126.97" width="11.8" height="8.78" fill="#ff5d00"/><rect x="506.1" y="135.45" width="11.8" height="8.78" fill="#ff9700"/><rect x="506.1" y="143.93" width="11.8" height="8.78" fill="#ffcb00"/><rect x="506.1" y="152.40" width="11.8" height="8.78" fill="#f5f800"/><rect x="506.1" y="160.88" width="11.8" height="8.78" fill="#9bd600"/><rect x="506.1" y="169.36" width="11.8" height="8.78" fill="#32b200"/><rect x="506.1" y="177.84" width="11.8" height="8.78" fill="#00a71b"/><rect x="506.1" y="186.32" width="11.8" height="8.78" fill="#00b955"/><rect x="506.1" y="194.80" width="11.8" height="8.78" fill="#00cf8a"/><rect x="506.1" y="203.27" width="11.8" height="8.78" fill="#00e2bb"/><rect x="506.1" y="211.75" width="11.8" height="8.78" fill="#00e8e9"/><rect x="506.1" y="220.23" width="11.8" height="8.78" fill="#00c0ff"/><rect x="506.1" y="228.71" width="11.8" height="8.78" fill="#0076ff"/><rect x="506.1" y="237.19" width="11.8" height="8.78" fill="#002af9"/><rect x="506.1" y="245.67" width="11.8" height="8.78" fill="#0000cb"/><rect x="506.1" y="254.14" width="11.8" height="8.78" fill="#000061"/><rect x="506.1" y="262.62" width="11.8" height="8.78" fill="#000000"/><path d="M506.1 84.58H517.9M506.1 93.06H517.9M506.1 101.53H517.9M506.1 110.01H517.9M506.1 118.49H517.9M506.1 126.97H517.9M506.1 135.45H517.9M506.1 143.93H517.9M506.1 152.40H517.9M506.1 160.88H517.9M506.1 169.36H517.9M506.1 177.84H517.9M506.1 186.32H517.9M506.1 194.80H517.9M506.1 203.27H517.9M506.1 211.75H517.9M506.1 220.23H517.9M506.1 228.71H517.9M506.1 237.19H517.9M506.1 245.67H517.9M506.1 254.14H517.9M506.1 262.62H517.9" stroke="#000" stroke-opacity="0.45" stroke-width="0.6" fill="none"/><path d="M426.5 34.1V37.3M426.5 330.1V333.6M449.0 34.1V37.3M449.0 330.1V333.6M471.5 34.1V37.3M471.5 330.1V333.6M494.0 34.1V37.3M494.0 330.1V333.6M423.0 37.3H426.5M494.0 37.3H497.5M423.0 82.3H426.5M494.0 82.3H497.5M423.0 127.4H426.5M494.0 127.4H497.5M423.0 172.4H426.5M494.0 172.4H497.5M423.0 217.5H426.5M494.0 217.5H497.5M423.0 262.5H426.5M494.0 262.5H497.5M423.0 307.6H426.5M494.0 307.6H497.5" stroke="#bbb" stroke-width="0.7" fill="none"/><g clip-path="url(#c5)" transform="scale(.1)"><rect x="5652" y="369" width="675" height="2933" fill="#000010"/><path fill="#00008b" stroke="#b4b4b4" stroke-width="5" fill-rule="evenodd" d="M5660 3302l668 0 0-1573-5-6 5-7 0-1347-676 0 0 2933z"/><path fill="#0000d4" stroke="#b4b4b4" stroke-width="5" fill-rule="evenodd" d="M5660 3302l668 0 0-1561-8-4-7-14 6-15 9-6 0-1333-676 0 0 2933z"/><path fill="#0023f3" stroke="#b4b4b4" stroke-width="5" fill-rule="evenodd" d="M5660 3302l668 0 0-1549-15-8-8-10-3-12 3-15 5-8 18-12 0-1319-676 0 0 2933z"/><path fill="#0054ff" stroke="#000" stroke-width="5" fill-rule="evenodd" d="M5660 3302l668 0 0-1537-23-12-10-15-4-15 2-15 8-15 12-12 15-7 0-1305-676 0 0 2933z"/><path fill="#008fff" stroke="#b4b4b4" stroke-width="5" fill-rule="evenodd" d="M5660 3302l668 0 0-1525-15-5-16-12-11-15-6-22 3-23 8-15 14-14 23-11 0-1291-676 0 0 2933z"/><path fill="#00c5ff" stroke="#b4b4b4" stroke-width="5" fill-rule="evenodd" d="M5660 3302l668 0 0-1512-23-9-17-13-15-23-5-22 3-23 12-25 22-20 23-10 0-1276-676 0 0 2933z"/><path fill="#00e2ef" stroke="#b4b4b4" stroke-width="5" fill-rule="evenodd" d="M5660 3302l668 0 0-1499-30-12-23-19-15-27-4-30 6-30 14-22 22-19 30-14 0-1261-676 0 0 2933z"/><path fill="#00ebd3" stroke="#b4b4b4" stroke-width="5" fill-rule="evenodd" d="M5660 3302l668 0 0-1116-7-5-2-7 9-11 0-347-38-15-22-18-19-30-6-38 8-37 17-26 22-20 38-17 0-1246-676 0 0 2933z"/><path fill="#00ddac" stroke="#000" stroke-width="5" fill-rule="evenodd" d="M5660 3302l668 0 0-1090-15-8-8-7-6-23 5-15 7-8 17-9 0-313-43-16-29-23-11-15-10-22-6-38 7-37 9-20 14-18 31-25 38-16 0-1230-676 0 0 2933z"/><path fill="#00cf88" stroke="#b4b4b4" stroke-width="5" fill-rule="evenodd" d="M5660 3302l668 0 0-1065-23-9-15-14-10-18-2-15 3-22 9-15 15-14 23-9 0-279-53-19-32-25-11-15-10-23-7-45 8-45 22-38 15-15 22-15 46-19 0-1214-676 0 0 2933z"/><path fill="#00bf62" stroke="#b4b4b4" stroke-width="5" fill-rule="evenodd" d="M5660 3302l668 0 0-1039-30-12-23-17-15-22-6-31 6-30 15-22 23-18 30-12 0-243-60-20-23-14-15-15-12-17-10-22-6-23-2-30 3-30 6-22 11-23 17-23 16-15 22-15 53-20 0-1198-676 0 0 2933zM5855 1738l-8-15 5-15 18-9 15 5 9 11-2 16-7 8-8 4-15-1z"/><path fill="#00ae37" stroke="#b4b4b4" stroke-width="5" fill-rule="evenodd" d="M5660 3302l668 0 0-1013-45-17-29-23-19-30-8-38 9-37 21-30 33-23 38-14 0-207-68-20-22-12-20-18-16-22-10-23-6-30-2-30 2-30 7-30 11-23 15-22 19-18 22-16 30-14 38-12 0-1181-676 0 0 2933zM5855 2189l-9-15 3-15 13-11 15-1 8 3 7 5 7 11-1 15-13 13-8 2-15-3zM5834 1768l-24-15-10-15-3-15 5-23 10-15 20-13 23-6 22 3 19 9 15 15 8 22-3 23-9 15-22 15-23 4-22-2z"/><path fill="#00a30c" stroke="#b4b4b4" stroke-width="5" fill-rule="evenodd" d="M5660 3302l668 0 0-987-30-9-28-12-23-15-17-15-13-15-12-22-6-23-2-23 3-22 7-23 13-22 14-15 34-23 60-21 0-172-77-17-28-15-19-15-18-23-12-30-5-30-2-38 2-37 6-31 15-30 16-22 24-23 30-18 68-21 0-1164-676 0 0 2933zM5841 2219l-24-13-18-17-13-23 0-22 11-15 28-15 30-4 30 4 22 10 20 20 7 22-3 23-10 15-22 15-22 5-30-3zM5782 1798l-32-15-15-15-7-15-3-30 6-23 8-15 26-29 30-17 37-8 45 4 23 9 15 10 15 15 10 16 5 15 2 23-2 15-8 19-23 26-37 16-45 5-45-5z"/><path fill="#32b200" stroke="#000" stroke-width="5" fill-rule="evenodd" d="M5660 3302l668 0 0-961-68-22-30-16-22-17-21-22-14-22-8-23-4-30 2-30 8-30 12-23 19-22 19-15 24-13 83-24 0-134-68-9-30-7-30-16-22-21-16-25-10-30-4-105 2-30 10-30 18-30 27-30 25-21 30-15 68-14 0-194-13-19-4-15 2-16 6-7 9-5 0-890-676 0 0 1299 35-36 48-28 52-13 53 1 30 5 30 10 40 25 14 15 15 23 7 23 3 22-3 30-8 23-16 21-18 16-42 20-90 22-34 11-29 15-19 15-11 15-9 23-4 30 1 30 5 15 9 15 15 15 24 15 42 15 100 20 45 20 17 13 13 15 8 15 4 22-5 30-9 16-15 15-35 18-45 8-30-3-38-10-97-48-53-18 0 1128z"/><path fill="#7dcc00" stroke="#b4b4b4" stroke-width="5" fill-rule="evenodd" d="M5660 3302l668 0 0-935-83-24-38-19-29-18-33-27-20-22-14-23-4-22 9-38-5-38 2-15 11-22 26-30 35-28 30-14 30-7 53-5 30-6 0-97-23-3-75 4-37-12-30-22-25-28-15-31-4-30 11-67-9-53 0-23 6-22 17-30 49-54 45-35 37-16 23-2 22 4 7-2-7-41-39-95-8-45 5-30 12-23 15-13 23-9 0-865-676 0 0 1193 45-17 30-8 38-2 37 5 83 23 45 19 42 28 26 30 15 30 5 45-3 45-7 23-9 15-21 22-26 16-30 12-75 21-35 19-16 15-11 15-5 15-3 23 5 22 8 15 13 15 20 16 37 15 92 23 33 14 24 15 18 15 18 23 6 15 3 22-2 23-5 15-10 15-18 15-52 28-60 15-52 3-53-7-64-16-86-30 0 1075zM6328 1497z"/><path fill="#d0e900" stroke="#b4b4b4" stroke-width="5" fill-rule="evenodd" d="M5660 3302l668 0 0-909-53-12-52-17-128-56-37-11-38-2-120 11-75 0-83-11-90-23 0 1030zM6028 2017l45 0 30-8 15-8 19-15 11-23-4-22-24-30-40-30-30-10-173 20-22 9-15 11-11 15-6 15 1 22 7 15 16 17 23 12 37 6 114 3zM6298 1987l15 1 15-3 0-59-15 0-15 3-20 12-7 7-4 15 3 8 7 7 16 8zM6088 1738l15-5 5-10-5-11-8-4-9 0-8 7 0 15 9 8zM6065 1603l15-4 15-9 38-30 39-40 42-53 12-23 4-15-3-97 4-30 8-23 14-23 21-22 24-15 30-10 0-840-676 0 0 1084 30-10 23-3 22 2 30 7 45 22 60 42 83 28 83 50 32 11z"/><path fill="#fbf200" stroke="#b4b4b4" stroke-width="5" fill-rule="evenodd" d="M5660 3302l668 0 0-881-88-21-167-51-38-8-60-5-203-4-60-7-60-12 0 989zM5870 1971l22 4 15-4 9-8 5-7 0-15-14-13-22-6-15 5-8 6-4 8-1 15 12 15zM6320 1961l8 0 0-20-8 1-6 6 0 8zM6050 1537l23 5 22-3 23-10 17-17 14-22 11-31 4-30 6-90 8-30 14-30 28-38 33-27 37-20 38-10 0-815-676 0 0 902 30 22 38 19 37 12 68 17 22 11 17 17 38 60 20 23 96 68 27 15z"/><path fill="#ffcd00" stroke="#b4b4b4" stroke-width="5" fill-rule="evenodd" d="M5660 3302l668 0 0-851-158-39-67-12-60-18-53-10-98-11-135 2-105-11 0 950zM6035 1340l23-4 15-10 89-85 61-45 52-25 53-13 0-789-676 0 0 874 120 21 38-1 60-9 15 1 33 16 72 52 23 11 18 5z"/><path fill="#ffa700" stroke="#000" stroke-width="5" fill-rule="evenodd" d="M5660 3302l668 0 0-821-143-36-308-59-105 11-120-7 0 912zM5967 1235l53 6 45-7 38-14 127-63 45-14 53-10 0-764-676 0 0 847 113 7 120-4 78 15z"/><path fill="#ff7d00" stroke="#b4b4b4" stroke-width="5" fill-rule="evenodd" d="M5660 3302l668 0 0-791-68-19-82-19-301-50-105 10-120-4 0 873zM5697 1189l68 0 112-5 113 2 45-3 60-14 135-46 98-17 0-737-676 0 0 819 43 1z"/><path fill="#ff5200" stroke="#b4b4b4" stroke-width="5" fill-rule="evenodd" d="M5660 3302l668 0 0-760-128-35-112-18-203-17-113 1-120-5 0 834zM5660 1161l75-3 247-19 106-16 135-33 105-10 0-711-676 0 0 389 18 2 16 8 12 15 2 15-4 15-10 15-19 13-15 3 0 316zM6042 655l-15-8-9-15 0-15 9-22 13-15 18-11 22-6 15 1 15 7 12 16 1 15-5 15-15 18-15 10-23 8-22 2z"/><path fill="#ff2900" stroke="#b4b4b4" stroke-width="5" fill-rule="evenodd" d="M5660 3302l668 0 0-728-143-39-82-14-68-2-173 5-210-15 0 793zM5660 1133l37-2 98-14 90-7 128-32 90-6 82-17 53-4 90 2 0-684-676 0 0 277 34-6 37-15 187-113 35-12 37-7 38-2 38 4 30 6 30 13 22 17 15 18 9 23 3 23-2 22-7 23-38 75-15 38-6 37 4 30-53 24-52 12-98 9-105-1-105 22-38 5 0 242z"/><path fill="#ff0500" stroke="#b4b4b4" stroke-width="5" fill-rule="evenodd" d="M5660 3302l393 0 27-22 23-8 22-1 68 10 37 1 38-7 15-6 17-12 17-23 11-26 0-600-173-47-45-8-37-1-38 3-135 31-30 3-38-5-127-29-53-5 0 752zM5660 1105l42-7 93-29 22-2 53 3 15-2 14-7 17-15 10-15 6-15 0-15-8-15-17-15-22-10-53-10-127-13-53 1 0 165zM6298 1016l30 0 0-647-371 0 83 45 108 49 33 26 22 30 9 23 5 23-3 45-11 37-43 106-16 82-25 83-2 30 9 23 14 11 15 7 60 15 79 12z"/><path fill="#ff0000" stroke="#000" stroke-width="5" fill-rule="evenodd" d="M5660 3302l293 0 39-30 51-24 45-13 82-14 30-10 30-18 23-26 11-23 9-30 19-120 0-45-11-106 16-113-2-45-11-22-21-15-112-53-26-8-30-3-22 2-31 9-127 62-23 7-22 4-23-2-30-7-37-15-83-41-22-8-23-2 0 709zM5660 1076l15-4 19-11 13-15 6-23-7-15-9-8-15-7-22-3-8 0 0 85zM6283 972l45 4 0-607-225 0 22 2 30 9 30 15 23 16 22 20 24 28 18 30 9 23 6 37-5 38-12 30-48 90-20 46-13 52-4 53 7 45 16 29 30 23 40 16z"/><path fill="#ff0000" stroke="#b4b4b4" stroke-width="5" fill-rule="evenodd" d="M5660 3245l37-7 40-11 35-15 53-28 22-8 15 1 60 15 53 7 68 0 67-7 30-7 30-13 23-17 16-18 13-23 10-30 5-38 1-37-8-59-33-122-7-98-10-30-18-30-32-37-12-10-15-6-15 5-15 11-83 84-80 74-23 30-10 30-52-11-113-33-15-1-15 5-18 17-12 23 0 395zM6313 934l15 1 0-289-45 45-29 39-18 38-10 45 3 45 7 22 9 15 25 23 38 15zM6328 369z"/><path fill="#ff0000" stroke="#b4b4b4" stroke-width="5" fill-rule="evenodd" d="M6043 3152l22 4 30 0 23-4 22-9 20-14 13-15 12-23 6-22 2-23-3-30-9-30-12-22-14-20-22-21-23-12-22-8-23-4-22 0-23 6-15 8-30 29-13 22-7 22-3 23 1 30 7 30 11 30 11 17 16 15 21 13 21 8zM6328 896l0-179-30 22-18 21-14 30-5 30 6 30 14 23 21 15 25 7z"/><path fill="#ff0000" stroke="#b4b4b4" stroke-width="5" fill-rule="evenodd" d="M6073 3116l22 4 23-5 15-10 14-21 4-23-7-30-11-17-23-16-22-6-23 4-20 13-14 22-3 23 4 22 13 23 22 15zM6313 851l15 6 0-85-23 17-10 24 4 22 13 15z"/><path fill="#ff0000" stroke="#b4b4b4" stroke-width="5" fill-rule="evenodd" d="M6103 3085l9-9-2-8-7-6-8 0-5 7 0 7 8 8z"/></g><rect x="643.3" y="95.70" width="12.3" height="6.57" fill="#ff0000"/><rect x="643.3" y="101.97" width="12.3" height="6.57" fill="#ff0000"/><rect x="643.3" y="108.24" width="12.3" height="6.57" fill="#ff0000"/><rect x="643.3" y="114.50" width="12.3" height="6.57" fill="#ff0000"/><rect x="643.3" y="120.77" width="12.3" height="6.57" fill="#ff0000"/><rect x="643.3" y="127.04" width="12.3" height="6.57" fill="#ff0000"/><rect x="643.3" y="133.31" width="12.3" height="6.57" fill="#ff0500"/><rect x="643.3" y="139.57" width="12.3" height="6.57" fill="#ff2900"/><rect x="643.3" y="145.84" width="12.3" height="6.57" fill="#ff5200"/><rect x="643.3" y="152.11" width="12.3" height="6.57" fill="#ff7d00"/><rect x="643.3" y="158.38" width="12.3" height="6.57" fill="#ffa700"/><rect x="643.3" y="164.65" width="12.3" height="6.57" fill="#ffcd00"/><rect x="643.3" y="170.91" width="12.3" height="6.57" fill="#fbf200"/><rect x="643.3" y="177.18" width="12.3" height="6.57" fill="#d0e900"/><rect x="643.3" y="183.45" width="12.3" height="6.57" fill="#7dcc00"/><rect x="643.3" y="189.72" width="12.3" height="6.57" fill="#32b200"/><rect x="643.3" y="195.98" width="12.3" height="6.57" fill="#00a30c"/><rect x="643.3" y="202.25" width="12.3" height="6.57" fill="#00ae37"/><rect x="643.3" y="208.52" width="12.3" height="6.57" fill="#00bf62"/><rect x="643.3" y="214.79" width="12.3" height="6.57" fill="#00cf88"/><rect x="643.3" y="221.05" width="12.3" height="6.57" fill="#00ddac"/><rect x="643.3" y="227.32" width="12.3" height="6.57" fill="#00ebd3"/><rect x="643.3" y="233.59" width="12.3" height="6.57" fill="#00e2ef"/><rect x="643.3" y="239.86" width="12.3" height="6.57" fill="#00c5ff"/><rect x="643.3" y="246.13" width="12.3" height="6.57" fill="#008fff"/><rect x="643.3" y="252.39" width="12.3" height="6.57" fill="#0054ff"/><rect x="643.3" y="258.66" width="12.3" height="6.57" fill="#0023f3"/><rect x="643.3" y="264.93" width="12.3" height="6.57" fill="#0000d4"/><rect x="643.3" y="271.20" width="12.3" height="6.57" fill="#00008b"/><rect x="643.3" y="277.46" width="12.3" height="6.57" fill="#000010"/><rect x="643.3" y="283.73" width="12.3" height="6.57" fill="#000000"/><path d="M643.3 101.97H655.6M643.3 108.24H655.6M643.3 114.50H655.6M643.3 120.77H655.6M643.3 127.04H655.6M643.3 133.31H655.6M643.3 139.57H655.6M643.3 145.84H655.6M643.3 152.11H655.6M643.3 158.38H655.6M643.3 164.65H655.6M643.3 170.91H655.6M643.3 177.18H655.6M643.3 183.45H655.6M643.3 189.72H655.6M643.3 195.98H655.6M643.3 202.25H655.6M643.3 208.52H655.6M643.3 214.79H655.6M643.3 221.05H655.6M643.3 227.32H655.6M643.3 233.59H655.6M643.3 239.86H655.6M643.3 246.13H655.6M643.3 252.39H655.6M643.3 258.66H655.6M643.3 264.93H655.6M643.3 271.20H655.6M643.3 277.46H655.6M643.3 283.73H655.6" stroke="#000" stroke-opacity="0.45" stroke-width="0.6" fill="none"/><path d="M565.2 33.7V36.9M565.2 330.2V333.7M587.7 33.7V36.9M587.7 330.2V333.7M610.3 33.7V36.9M610.3 330.2V333.7M632.8 33.7V36.9M632.8 330.2V333.7M561.7 36.9H565.2M632.8 36.9H636.3M561.7 82.0H565.2M632.8 82.0H636.3M561.7 127.1H565.2M632.8 127.1H636.3M561.7 172.3H565.2M632.8 172.3H636.3M561.7 217.4H565.2M632.8 217.4H636.3M561.7 262.5H565.2M632.8 262.5H636.3M561.7 307.6H565.2M632.8 307.6H636.3" stroke="#bbb" stroke-width="0.7" fill="none"/><text class="ax" x="13.3" y="41.1" text-anchor="end">14</text><text class="ax" x="13.3" y="86.4" text-anchor="end">12</text><text class="ax" x="13.3" y="131.6" text-anchor="end">10</text><text class="ax" x="13.3" y="176.9" text-anchor="end">8</text><text class="ax" x="13.3" y="222.1" text-anchor="end">6</text><text class="ax" x="13.3" y="267.4" text-anchor="end">4</text><text class="ax" x="13.3" y="312.7" text-anchor="end">2</text><text class="ax" x="16.8" y="346.9" text-anchor="middle">1</text><text class="ax" x="39.7" y="346.9" text-anchor="middle">2</text><text class="ax" x="62.5" y="346.9" text-anchor="middle">3</text><text class="ax" x="85.4" y="346.9" text-anchor="middle">4</text><text class="cb" x="108.5" y="107.6">3E-06</text><text class="cb" x="108.5" y="121.1">2.6E-06</text><text class="cb" x="108.5" y="134.6">2.2E-06</text><text class="cb" x="108.5" y="148.1">1.8E-06</text><text class="cb" x="108.5" y="161.6">1.4E-06</text><text class="cb" x="108.5" y="175.1">1E-06</text><text class="cb" x="108.5" y="188.5">6E-07</text><text class="cb" x="108.5" y="202.0">2E-07</text><text class="cb" x="108.5" y="215.5">-2E-07</text><text class="cb" x="108.5" y="229.0">-6E-07</text><text class="cb" x="108.5" y="242.5">-1E-06</text><text class="cb" x="108.5" y="256.0">-1.4E-06</text><text class="cb" x="108.5" y="269.4">-1.8E-06</text><text class="cb" x="108.5" y="282.9">-2.2E-06</text><text class="cb" x="108.5" y="296.4">-2.6E-06</text><text class="tt" x="8.4" y="25.9" textLength="37.1" lengthAdjust="spacingAndGlyphs">1h-i<tspan class="sb" dx="-0.6" dy="1.5">g</tspan></text><text class="tt t2" x="52.9" y="24.8" textLength="76.2" lengthAdjust="spacingAndGlyphs">ig(A/cm<tspan class="sp" dy="-6.5">2</tspan><tspan dx="1.2" dy="6.5">)</tspan></text><text class="ax" x="146.8" y="40.3" text-anchor="end">14</text><text class="ax" x="146.8" y="85.7" text-anchor="end">12</text><text class="ax" x="146.8" y="131.0" text-anchor="end">10</text><text class="ax" x="146.8" y="176.4" text-anchor="end">8</text><text class="ax" x="146.8" y="221.7" text-anchor="end">6</text><text class="ax" x="146.8" y="267.1" text-anchor="end">4</text><text class="ax" x="146.8" y="312.4" text-anchor="end">2</text><text class="ax" x="150.3" y="346.9" text-anchor="middle">1</text><text class="ax" x="171.7" y="346.9" text-anchor="middle">2</text><text class="ax" x="193.1" y="346.9" text-anchor="middle">3</text><text class="ax" x="214.5" y="346.9" text-anchor="middle">4</text><text class="cb" x="242.7" y="104.7">1.6E-06</text><text class="cb" x="242.7" y="113.6">1.4E-06</text><text class="cb" x="242.7" y="122.5">1.2E-06</text><text class="cb" x="242.7" y="131.4">1E-06</text><text class="cb" x="242.7" y="140.3">8E-07</text><text class="cb" x="242.7" y="149.2">6E-07</text><text class="cb" x="242.7" y="158.1">4E-07</text><text class="cb" x="242.7" y="167.0">2E-07</text><text class="cb" x="242.7" y="175.9">0</text><text class="cb" x="242.7" y="184.8">-2E-07</text><text class="cb" x="242.7" y="193.7">-4E-07</text><text class="cb" x="242.7" y="202.6">-6E-07</text><text class="cb" x="242.7" y="211.5">-8E-07</text><text class="cb" x="242.7" y="220.4">-1E-06</text><text class="cb" x="242.7" y="229.3">-1.2E-06</text><text class="cb" x="242.7" y="238.2">-1.4E-06</text><text class="cb" x="242.7" y="247.1">-1.6E-06</text><text class="cb" x="242.7" y="256.0">-1.8E-06</text><text class="cb" x="242.7" y="264.9">-2E-06</text><text class="cb" x="242.7" y="273.8">-2.2E-06</text><text class="cb" x="242.7" y="282.7">-2.4E-06</text><text class="cb" x="242.7" y="291.6">-2.6E-06</text><g transform="translate(185.8 150.0) rotate(47.0)"><rect x="-11" y="-3" width="22" height="6" fill="#00a000"/><text class="clb" x="0" y="2.5" text-anchor="middle">-6E-07</text></g><text class="tt" x="138.2" y="23.7" textLength="36.0" lengthAdjust="spacingAndGlyphs">3h-i<tspan class="sb" dx="-0.6" dy="1.5">g</tspan></text><text class="tt t2" x="181.2" y="23.7" textLength="71.0" lengthAdjust="spacingAndGlyphs">ig(A/cm<tspan class="sp" dy="-6.5">2</tspan><tspan dx="1.2" dy="6.5">)</tspan></text><text class="ax" x="280.8" y="40.4" text-anchor="end">14</text><text class="ax" x="280.8" y="85.7" text-anchor="end">12</text><text class="ax" x="280.8" y="131.1" text-anchor="end">10</text><text class="ax" x="280.8" y="176.4" text-anchor="end">8</text><text class="ax" x="280.8" y="221.8" text-anchor="end">6</text><text class="ax" x="280.8" y="267.1" text-anchor="end">4</text><text class="ax" x="280.8" y="312.4" text-anchor="end">2</text><text class="ax" x="284.3" y="346.9" text-anchor="middle">1</text><text class="ax" x="307.0" y="346.9" text-anchor="middle">2</text><text class="ax" x="329.7" y="346.9" text-anchor="middle">3</text><text class="ax" x="352.4" y="346.9" text-anchor="middle">4</text><text class="cb" x="379.7" y="102.1">2.4E-06</text><text class="cb" x="379.7" y="110.0">2.2E-06</text><text class="cb" x="379.7" y="117.8">2E-06</text><text class="cb" x="379.7" y="125.7">1.8E-06</text><text class="cb" x="379.7" y="133.5">1.6E-06</text><text class="cb" x="379.7" y="141.4">1.4E-06</text><text class="cb" x="379.7" y="149.2">1.2E-06</text><text class="cb" x="379.7" y="157.1">1E-06</text><text class="cb" x="379.7" y="164.9">8E-07</text><text class="cb" x="379.7" y="172.8">6E-07</text><text class="cb" x="379.7" y="180.6">4E-07</text><text class="cb" x="379.7" y="188.5">2E-07</text><text class="cb" x="379.7" y="196.3">0</text><text class="cb" x="379.7" y="204.2">-2E-07</text><text class="cb" x="379.7" y="212.0">-4E-07</text><text class="cb" x="379.7" y="219.9">-6E-07</text><text class="cb" x="379.7" y="227.7">-8E-07</text><text class="cb" x="379.7" y="235.6">-1E-06</text><text class="cb" x="379.7" y="243.4">-1.2E-06</text><text class="cb" x="379.7" y="251.3">-1.4E-06</text><text class="cb" x="379.7" y="259.1">-1.6E-06</text><text class="cb" x="379.7" y="267.0">-1.8E-06</text><text class="cb" x="379.7" y="274.8">-2E-06</text><text class="cb" x="379.7" y="282.7">-2.2E-06</text><text class="cb" x="379.7" y="290.5">-2.4E-06</text><text class="tt" x="271.1" y="22.7" textLength="38.6" lengthAdjust="spacingAndGlyphs">5h-i<tspan class="sb" dx="-0.6" dy="1.5">g</tspan></text><text class="tt t2" x="318.2" y="22.6" textLength="73.3" lengthAdjust="spacingAndGlyphs">ig(A/cm<tspan class="sp" dy="-6.5">2</tspan><tspan dx="1.2" dy="6.5">)</tspan></text><text class="ax" x="420.8" y="42.3" text-anchor="end">14</text><text class="ax" x="420.8" y="87.3" text-anchor="end">12</text><text class="ax" x="420.8" y="132.4" text-anchor="end">10</text><text class="ax" x="420.8" y="177.4" text-anchor="end">8</text><text class="ax" x="420.8" y="222.5" text-anchor="end">6</text><text class="ax" x="420.8" y="267.5" text-anchor="end">4</text><text class="ax" x="420.8" y="312.6" text-anchor="end">2</text><text class="ax" x="424.3" y="346.9" text-anchor="middle">1</text><text class="ax" x="446.8" y="346.9" text-anchor="middle">2</text><text class="ax" x="469.3" y="346.9" text-anchor="middle">3</text><text class="ax" x="491.8" y="346.9" text-anchor="middle">4</text><text class="cb" x="519.7" y="86.5">2E-06</text><text class="cb" x="519.7" y="95.0">1.8E-06</text><text class="cb" x="519.7" y="103.4">1.6E-06</text><text class="cb" x="519.7" y="111.9">1.4E-06</text><text class="cb" x="519.7" y="120.4">1.2E-06</text><text class="cb" x="519.7" y="128.9">1E-06</text><text class="cb" x="519.7" y="137.3">8E-07</text><text class="cb" x="519.7" y="145.8">6E-07</text><text class="cb" x="519.7" y="154.3">4E-07</text><text class="cb" x="519.7" y="162.8">2E-07</text><text class="cb" x="519.7" y="171.3">0</text><text class="cb" x="519.7" y="179.7">-2E-07</text><text class="cb" x="519.7" y="188.2">-4E-07</text><text class="cb" x="519.7" y="196.7">-6E-07</text><text class="cb" x="519.7" y="205.2">-8E-07</text><text class="cb" x="519.7" y="213.7">-1E-06</text><text class="cb" x="519.7" y="222.1">-1.2E-06</text><text class="cb" x="519.7" y="230.6">-1.4E-06</text><text class="cb" x="519.7" y="239.1">-1.6E-06</text><text class="cb" x="519.7" y="247.6">-1.8E-06</text><text class="cb" x="519.7" y="256.0">-2E-06</text><text class="cb" x="519.7" y="264.5">-2.2E-06</text><text class="cb" x="519.7" y="273.0">-2.4E-06</text><text class="tt" x="416.5" y="23.7" textLength="37.8" lengthAdjust="spacingAndGlyphs">8h-i<tspan class="sb" dx="-0.6" dy="1.5">g</tspan></text><text class="tt t2" x="462.6" y="24.0" textLength="75.0" lengthAdjust="spacingAndGlyphs">ig(A/cm<tspan class="sp" dy="-6.5">2</tspan><tspan dx="1.2" dy="6.5">)</tspan></text><text class="ax" x="559.5" y="41.9" text-anchor="end">14</text><text class="ax" x="559.5" y="87.0" text-anchor="end">12</text><text class="ax" x="559.5" y="132.1" text-anchor="end">10</text><text class="ax" x="559.5" y="177.3" text-anchor="end">8</text><text class="ax" x="559.5" y="222.4" text-anchor="end">6</text><text class="ax" x="559.5" y="267.5" text-anchor="end">4</text><text class="ax" x="559.5" y="312.6" text-anchor="end">2</text><text class="ax" x="563.0" y="346.9" text-anchor="middle">1</text><text class="ax" x="585.5" y="346.9" text-anchor="middle">2</text><text class="ax" x="608.1" y="346.9" text-anchor="middle">3</text><text class="ax" x="630.6" y="346.9" text-anchor="middle">4</text><text class="cb" x="657.4" y="103.9">1.8E-06</text><text class="cb" x="657.4" y="116.4">1.4E-06</text><text class="cb" x="657.4" y="128.9">1E-06</text><text class="cb" x="657.4" y="141.5">6E-07</text><text class="cb" x="657.4" y="154.0">2E-07</text><text class="cb" x="657.4" y="166.5">-2E-07</text><text class="cb" x="657.4" y="179.1">-6E-07</text><text class="cb" x="657.4" y="191.6">-1E-06</text><text class="cb" x="657.4" y="204.2">-1.4E-06</text><text class="cb" x="657.4" y="216.7">-1.8E-06</text><text class="cb" x="657.4" y="229.2">-2.2E-06</text><text class="cb" x="657.4" y="241.8">-2.6E-06</text><text class="cb" x="657.4" y="254.3">-3E-06</text><text class="cb" x="657.4" y="266.8">-3.4E-06</text><text class="cb" x="657.4" y="279.4">-3.8E-06</text><text class="cb" x="657.4" y="291.9">-4.2E-06</text><text class="tt" x="557.3" y="24.3" textLength="46.5" lengthAdjust="spacingAndGlyphs">12h-i<tspan class="sb" dx="-0.6" dy="1.5">g</tspan></text><text class="tt t2" x="611.9" y="24.1" textLength="74.6" lengthAdjust="spacingAndGlyphs">ig(A/cm<tspan class="sp" dy="-6.5">2</tspan><tspan dx="1.2" dy="6.5">)</tspan></text></svg></body></html>
